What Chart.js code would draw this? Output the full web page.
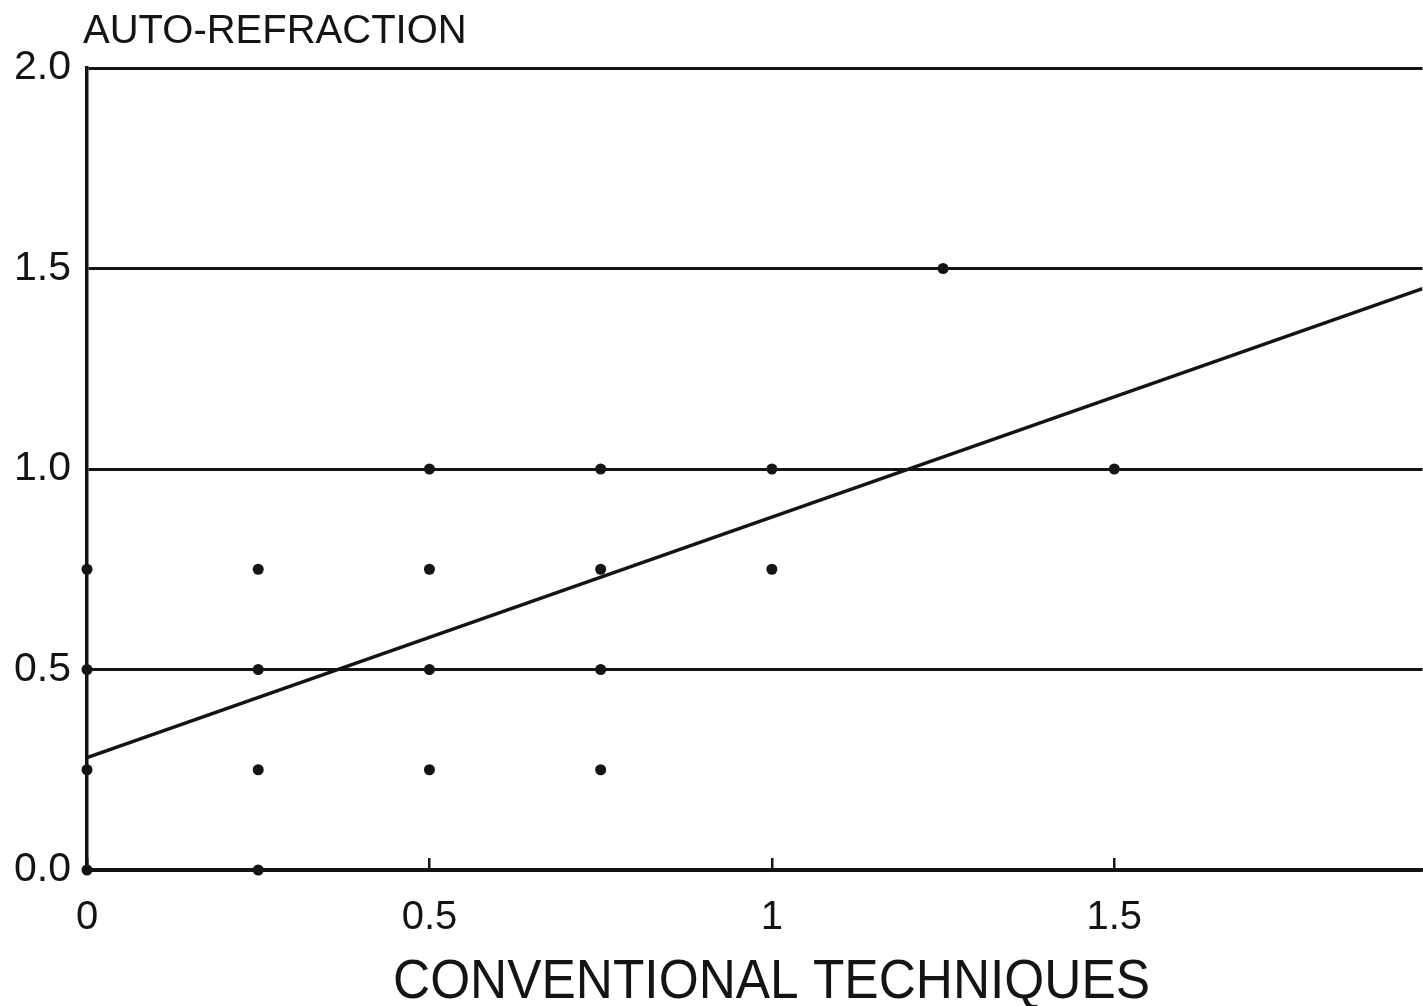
<!DOCTYPE html>
<html>
<head>
<meta charset="utf-8">
<title>Auto-refraction vs conventional techniques</title>
<script src="https://cdn.jsdelivr.net/npm/chart.js@4.4.1/dist/chart.umd.min.js"></script>
<style>
  html, body { margin: 0; padding: 0; background: #ffffff; overflow: hidden; }
  #wrap { width: 1423px; height: 1006px; position: relative; overflow: hidden; }
  #chart { position: absolute; left: 0; top: 0; }
</style>
</head>
<body>
<div id="wrap"><canvas id="chart" width="1428" height="1006"></canvas></div>
<script>
// Paired measurements (conventional, auto-refraction)
const conventional = [0, 0, 0, 0, 0.25, 0.25, 0.25, 0.25, 0.5, 0.5, 0.5, 0.5, 0.75, 0.75, 0.75, 0.75, 1, 1, 1.25, 1.5];
const autoRefraction = [0, 0.25, 0.5, 0.75, 0, 0.25, 0.5, 0.75, 0.25, 0.5, 0.75, 1.0, 0.25, 0.5, 0.75, 1.0, 0.75, 1.0, 1.5, 1.0];

// Fitted regression line, end points
const fitX = [0, 1.95];
const fitY = [0.28, 1.45];

// Axis tick labels
const xTickValues = [0, 0.5, 1, 1.5];
const xTickLabels = ['0', '0.5', '1', '1.5'];
const yTickValues = [0, 0.5, 1.0, 1.5, 2.0];
const yTickLabels = ['0.0', '0.5', '1.0', '1.5', '2.0'];

const yAxisTitle = 'AUTO-REFRACTION';
const xAxisTitle = 'CONVENTIONAL TECHNIQUES';

const INK = '#141414';
const FONT = '"Liberation Sans", Arial, Helvetica, sans-serif';

const points = conventional.map((x, i) => ({ x: x, y: autoRefraction[i] }));
const fitLine = fitX.map((x, i) => ({ x: x, y: fitY[i] }));

// Axis titles: one horizontal above the y axis, one under the x axis
const axisTitles = {
  id: 'axisTitles',
  afterDraw(chart) {
    const ctx = chart.ctx;
    const area = chart.chartArea;
    ctx.save();
    ctx.fillStyle = INK;
    ctx.textBaseline = 'alphabetic';
    ctx.textAlign = 'left';
    ctx.font = '40px ' + FONT;
    ctx.fillText(yAxisTitle, area.left - 4, 43);

    ctx.font = '55px ' + FONT;
    const w = ctx.measureText(xAxisTitle).width;
    const sx = 757 / w;
    ctx.translate(393, 998);
    ctx.scale(sx, 1);
    ctx.fillText(xAxisTitle, 0, 0);
    ctx.restore();
  }
};

new Chart(document.getElementById('chart'), {
  type: 'scatter',
  data: {
    datasets: [
      {
        label: 'Measurements',
        data: points,
        pointStyle: 'circle',
        pointRadius: 5.5,
        pointBackgroundColor: INK,
        pointBorderColor: INK,
        pointBorderWidth: 0,
        showLine: false,
        clip: false,
        order: 1
      },
      {
        label: 'Regression',
        data: fitLine,
        showLine: true,
        borderColor: INK,
        borderWidth: 3.5,
        pointRadius: 0,
        fill: false,
        order: 2
      }
    ]
  },
  options: {
    responsive: false,
    animation: false,
    devicePixelRatio: 1,
    layout: { padding: { top: 68, right: 0, left: 0, bottom: 0 } },
    plugins: {
      legend: { display: false },
      tooltip: { enabled: false },
      title: { display: false }
    },
    scales: {
      x: {
        type: 'linear',
        min: 0,
        max: 1.95,
        afterBuildTicks(scale) {
          scale.ticks = xTickValues.map(v => ({ value: v }));
        },
        afterFit(scale) {
          scale.height = 136;
          scale.paddingLeft = 0;
          scale.paddingRight = 0;
        },
        ticks: {
          autoSkip: false,
          maxRotation: 0,
          padding: 36,
          color: INK,
          font: { family: FONT, size: 40 },
          callback(value) {
            const i = xTickValues.indexOf(value);
            return i >= 0 ? xTickLabels[i] : '';
          }
        },
        grid: {
          display: true,
          drawOnChartArea: false,
          drawTicks: true,
          tickLength: -12,
          color: INK,
          lineWidth: 2.5
        },
        border: { display: true, color: INK, width: 3.5 }
      },
      y: {
        type: 'linear',
        min: 0,
        max: 2,
        afterBuildTicks(scale) {
          scale.ticks = yTickValues.map(v => ({ value: v }));
        },
        afterFit(scale) {
          scale.width = 87;
          scale.paddingTop = 0;
          scale.paddingBottom = 0;
        },
        ticks: {
          padding: 16,
          color: INK,
          font: { family: FONT, size: 41 },
          callback(value) {
            const i = yTickValues.indexOf(value);
            return i >= 0 ? yTickLabels[i] : '';
          }
        },
        grid: {
          display: true,
          drawOnChartArea: true,
          drawTicks: false,
          color: INK,
          lineWidth: 3
        },
        border: { display: true, color: INK, width: 3.5 }
      }
    }
  },
  plugins: [axisTitles]
});
</script>
</body>
</html>
